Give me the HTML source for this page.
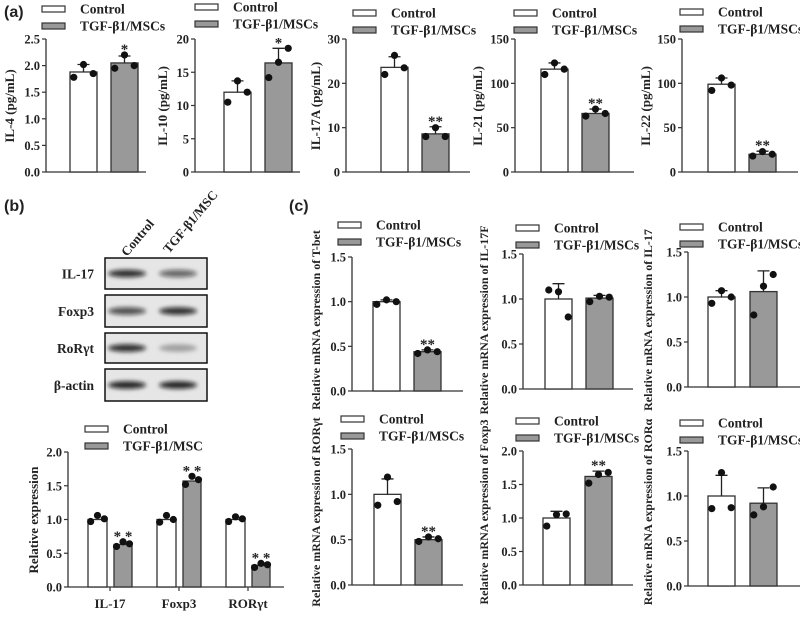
<!DOCTYPE html>
<html><head><meta charset="utf-8"><style>
html,body{margin:0;padding:0;background:#fff;}
svg{display:block;}
text{font-family:"Liberation Serif",serif;font-weight:bold;fill:#222;}
.sans{font-family:"Liberation Sans",sans-serif;}
</style></head><body>
<svg id="fig" width="800" height="617" viewBox="0 0 800 617" xmlns="http://www.w3.org/2000/svg">
<defs><filter id="blur" x="-50%" y="-100%" width="200%" height="300%"><feGaussianBlur stdDeviation="2.2"/></filter></defs>
<text class="sans" x="4" y="17" font-size="16">(a)</text>
<text class="sans" x="4" y="211" font-size="16">(b)</text>
<text class="sans" x="289" y="211" font-size="16">(c)</text>
<g id="blot"></g>
</svg>
<script>
// ---- data ----
const groups = ["Control","TGF-β1/MSCs"];
const il4Means=[1.88,2.05]; const il4Err=[2.02,2.18]; const il4Pts=[[1.78,2.02,1.85],[1.95,2.2,2.0]]; const il4Ticks=[0,0.5,1.0,1.5,2.0,2.5];
const il10Means=[12,16.4]; const il10Err=[13.7,18.6]; const il10Pts=[[10.5,13.7,12],[14.2,16.5,18.6]]; const il10Ticks=[0,5,10,15,20];
const il17aMeans=[23.6,8.6]; const il17aErr=[26.0,10.2]; const il17aPts=[[22,26.3,23.5],[8,10,8]]; const il17aTicks=[0,10,20,30];
const il21Means=[116,66]; const il21Err=[123,71]; const il21Pts=[[110,123,116],[63,71,66]]; const il21Ticks=[0,50,100,150];
const il22Means=[99,20]; const il22Err=[106,23.5]; const il22Pts=[[92,106,98],[18,23,20]]; const il22Ticks=[0,50,100,150];
const bCats=["IL-17","Foxp3","RORγt"];
const bCtrlMeans=[1.0,1.0,1.0]; const bTrtMeans=[0.63,1.57,0.32];
const bCtrlPts=[[0.97,1.06,1.01],[0.96,1.06,1.0],[0.97,1.04,1.01]];
const bTrtPts=[[0.6,0.67,0.64],[1.52,1.64,1.59],[0.29,0.35,0.33]];
const bTicks=[0,0.5,1.0,1.5,2.0];
const tbetMeans=[1.0,0.44]; const tbetErr=[1.02,0.46]; const tbetPts=[[0.97,1.02,1.0],[0.42,0.46,0.44]];
const il17fMeans=[1.0,1.01]; const il17fErr=[1.17,1.04]; const il17fPts=[[1.1,1.08,0.8],[0.97,1.03,1.02]];
const il17Means=[1.0,1.06]; const il17Err=[1.07,1.29]; const il17Pts=[[0.93,1.07,1.0],[0.8,1.12,1.25]];
const rorgMeans=[1.0,0.5]; const rorgErr=[1.17,0.53]; const rorgPts=[[0.88,1.19,0.92],[0.48,0.53,0.51]];
const foxMeans=[1.0,1.62]; const foxErr=[1.1,1.7]; const foxPts=[[0.88,1.05,1.06],[1.52,1.65,1.68]];
const roraMeans=[1.0,0.92]; const roraErr=[1.23,1.09]; const roraPts=[[0.86,1.26,0.87],[0.79,0.88,1.1]];
const cTicks=[0,0.5,1.0,1.5]; const cTicks2=[0,0.5,1.0,1.5,2.0];

const NS="http://www.w3.org/2000/svg";
const svg=document.getElementById('fig');
function mk(tag,attrs,parent){const e=document.createElementNS(NS,tag);for(const k in attrs)e.setAttribute(k,attrs[k]);(parent||svg).appendChild(e);return e;}
function fmt(v,dec){return dec?v.toFixed(1):String(v);}

function legend(x,y,labels,key){
  const lr1=mk('rect',{x:x,y:y-3,width:23,height:6,fill:'#fff',stroke:'#333','stroke-width':1.2});
  
  
  const lt1=mk('text',{x:x+38,y:y+4.5,'font-size':13.5});lt1.textContent=labels[0];
  
  
  const lr2=mk('rect',{x:x,y:y+14,width:23,height:6,fill:'#999',stroke:'#333','stroke-width':1.2});
  
  
  const lt2=mk('text',{x:x+38,y:y+21.5,'font-size':13.5});lt2.textContent=labels[1];
  
  
}

function axes(c){
  const ys=v=>c.y0-(v/c.max)*(c.y0-c.y1);
  const g=mk('g',{});
  
  
  const ya=mk('line',{x1:c.ax,y1:c.y1,x2:c.ax,y2:c.y0,stroke:'#333','stroke-width':1.3},g);
  
  
  const xa=mk('line',{x1:c.ax,y1:c.y0,x2:c.axEnd,y2:c.y0,stroke:'#333','stroke-width':1.3},g);
  
  
  c.ticks.forEach(t=>{
    const y=ys(t);
    mk('line',{x1:c.ax-4,y1:y,x2:c.ax,y2:y,stroke:'#333','stroke-width':1.2},g);
    const tl=mk('text',{x:c.ax-6,y:y+4.5,'font-size':12.5,'text-anchor':'end'},g);
    tl.textContent=fmt(t,c.dec);
    
    
  });
  const yl=mk('text',{x:0,y:0,'font-size':c.lfs||12,'text-anchor':'middle',transform:`translate(${c.lx},${c.ly}) rotate(-90)`},g);
  yl.textContent=c.ylabel;
  
  
  return {ys,g};
}

function bar(g,ys,x,w,mean,err,pts,fill,star,key,spaced){
  const b=mk('rect',{x:x,y:ys(mean),width:w,height:ys(0)-ys(mean),fill:fill,stroke:'#333','stroke-width':1.3},g);
  
  
  const cx=x+w/2;
  if(err!=null){
    const e=mk('path',{d:`M${cx},${ys(mean)}V${ys(err)}M${cx-6},${ys(err)}H${cx+6}`,stroke:'#222','stroke-width':1.3,fill:'none'},g);
    
    
  }
  const offs=[-w*0.36,0,w*0.36];
  pts.forEach((p,i)=>{
    const d=mk('circle',{cx:cx+offs[i],cy:ys(p),r:3.6,fill:'#111'},g);
    
    
  });
  if(star){
    const top=Math.min(ys(err!=null?err:mean),...pts.map(ys));
    const s=mk('text',{x:cx,y:top-1,'font-size':15,'text-anchor':'middle',fill:'#444'},g);
    s.textContent=spaced?star.split('').join(' '):star;
    
    
  }
}

function twoBar(c){
  const {ys,g}=axes(c);
  bar(g,ys,c.b1,c.bw,c.means[0],c.err[0],c.pts[0],'#fff',null,c.key+'-control');
  bar(g,ys,c.b2,c.bw,c.means[1],c.err[1],c.pts[1],'#999',c.star,c.key+'-treated');
  legend(c.legX,c.legY,c.leg||groups,c.key);
}

// panel a
twoBar({key:'il4',ax:46,axEnd:146,y1:39,y0:172,max:2.5,ticks:il4Ticks,dec:true,ylabel:'IL-4 (pg/mL)',lx:14,ly:106,lfs:13,b1:70,b2:111,bw:27,means:il4Means,err:il4Err,pts:il4Pts,star:'*',legX:42,legY:9});
twoBar({key:'il10',ax:195,axEnd:300,y1:39,y0:172,max:20,ticks:il10Ticks,ylabel:'IL-10 (pg/mL)',lx:167,ly:106,lfs:13,b1:224,b2:265,bw:27,means:il10Means,err:il10Err,pts:il10Pts,star:'*',legX:195,legY:7});
twoBar({key:'il17a',ax:346,axEnd:470,y1:39,y0:172,max:30,ticks:il17aTicks,ylabel:'IL-17A (pg/mL)',lx:320,ly:106,lfs:13,b1:381,b2:422,bw:27,means:il17aMeans,err:il17aErr,pts:il17aPts,star:'**',legX:353,legY:13});
twoBar({key:'il21',ax:515,axEnd:634,y1:39,y0:172,max:150,ticks:il21Ticks,ylabel:'IL-21 (pg/mL)',lx:482,ly:106,lfs:13,b1:541,b2:582,bw:27,means:il21Means,err:il21Err,pts:il21Pts,star:'**',legX:514,legY:13});
twoBar({key:'il22',ax:682,axEnd:798,y1:39,y0:172,max:150,ticks:il22Ticks,ylabel:'IL-22 (pg/mL)',lx:650,ly:106,lfs:13,b1:708,b2:749,bw:27,means:il22Means,err:il22Err,pts:il22Pts,star:'**',legX:680,legY:12});

// panel b bar chart
(function(){
  const c={key:'blot-quant',ax:68,axEnd:284,y1:452,y0:587,max:2.0,ticks:bTicks,dec:true,ylabel:'Relative expression',lx:38,ly:520,lfs:13};
  const {ys,g}=axes(c);
  const gx=[88,157,226];
  bCats.forEach((cat,i)=>{
    bar(g,ys,gx[i],19,bCtrlMeans[i],null,bCtrlPts[i],'#fff',null,'blot-quant-'+i+'-control');
    bar(g,ys,gx[i]+26,18,bTrtMeans[i],null,bTrtPts[i],'#999','**','blot-quant-'+i+'-treated',true);
    mk('line',{x1:gx[i]+22,y1:c.y0,x2:gx[i]+22,y2:c.y0+4,stroke:'#333','stroke-width':1.2},g);
    const t=mk('text',{x:gx[i]+22,y:608,'font-size':13,'text-anchor':'middle'},g);
    t.textContent=cat;
    
    
  });
  legend(85,429,["Control","TGF-β1/MSC"],'blot-quant');
})();

// western blot
(function(){
  const blot=document.getElementById('blot');
  const rows=[["IL-17",258,289,[0.85,0.6]],["Foxp3",295,327,[0.7,0.85]],["RoRγt",333,363,[0.85,0.3]],["β-actin",369,401,[0.9,0.9]]];
  rows.forEach(r=>{
    const box=mk('rect',{x:105,y:r[1],width:102,height:r[2]-r[1],fill:'#e6e6e6',stroke:'#111','stroke-width':1.5},blot);
    
    
    const cy=(r[1]+r[2])/2;
    [127,178].forEach((cx,i)=>{
      const bd=mk('ellipse',{cx:cx,cy:cy,rx:19,ry:3.8,fill:'#111','fill-opacity':r[3][i],filter:'url(#blur)'},blot);
      
      
    });
    const l=mk('text',{x:94,y:cy+5,'font-size':13.5,'text-anchor':'end'},blot);
    l.textContent=r[0];
    
    
  });
  const c1=mk('text',{x:0,y:0,'font-size':13,transform:'translate(127,257) rotate(-50)'},blot);
  c1.textContent='Control';
  
  
  const c2=mk('text',{x:0,y:0,'font-size':13,transform:'translate(169,254) rotate(-50)'},blot);
  c2.textContent='TGF-β1/MSC';
  
  
})();

// panel c
twoBar({key:'tbet',ax:352,axEnd:463,y1:257,y0:391,max:1.5,ticks:cTicks,dec:true,ylabel:'Relative mRNA expression of T-bet',lx:320,ly:320,b1:373,b2:414,bw:27,means:tbetMeans,err:tbetErr,pts:tbetPts,star:'**',legX:338,legY:225});
twoBar({key:'il17f',ax:523,axEnd:633,y1:254,y0:389,max:1.5,ticks:cTicks,dec:true,ylabel:'Relative mRNA expression of IL-17F',lx:488,ly:320,b1:545,b2:586,bw:27,means:il17fMeans,err:il17fErr,pts:il17fPts,star:null,legX:516,legY:228});
twoBar({key:'il17',ax:688,axEnd:800,y1:252,y0:387,max:1.5,ticks:cTicks,dec:true,ylabel:'Relative mRNA expression of IL-17',lx:652,ly:320,b1:708,b2:750,bw:27,means:il17Means,err:il17Err,pts:il17Pts,star:null,legX:680,legY:227});
twoBar({key:'rorgt',ax:352,axEnd:463,y1:449,y0:585,max:1.5,ticks:cTicks,dec:true,ylabel:'Relative mRNA expression of RORγt',lx:320,ly:512,b1:374,b2:415,bw:27,means:rorgMeans,err:rorgErr,pts:rorgPts,star:'**',legX:341,legY:419});
twoBar({key:'foxp3',ax:523,axEnd:633,y1:451,y0:585,max:2.0,ticks:cTicks2,dec:true,ylabel:'Relative mRNA expression of Foxp3',lx:488,ly:512,b1:543,b2:585,bw:27,means:foxMeans,err:foxErr,pts:foxPts,star:'**',legX:516,legY:421});
twoBar({key:'rora',ax:688,axEnd:800,y1:451,y0:586,max:1.5,ticks:cTicks,dec:true,ylabel:'Relative mRNA expression of RORα',lx:652,ly:512,b1:708,b2:750,bw:27,means:roraMeans,err:roraErr,pts:roraPts,star:null,legX:680,legY:423});
</script>
</body></html>
